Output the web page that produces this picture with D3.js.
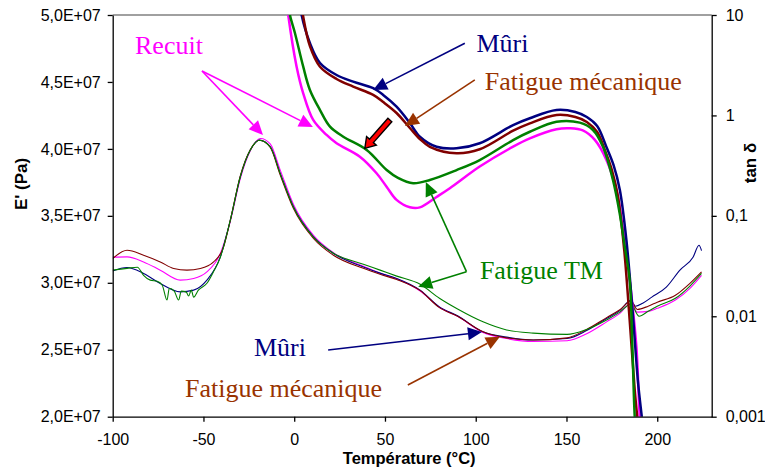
<!DOCTYPE html>
<html><head><meta charset="utf-8">
<script src="https://cdn.jsdelivr.net/npm/d3@7"></script>
<style>
html,body{margin:0;padding:0;background:#fff;}
svg{display:block;}
</style></head>
<body>
<svg id="chart" width="765" height="467"></svg>
<script>
// ---------- DATA ----------
// Temperature axis ticks
const xTicks = [-100, -50, 0, 50, 100, 150, 200];
const eTicks = [2.0e7, 2.5e7, 3.0e7, 3.5e7, 4.0e7, 4.5e7, 5.0e7];
const tanTicks = [0.001, 0.01, 0.1, 1, 10];
const tanTickLabels = ["0,001", "0,01", "0,1", "1", "10"];

// E' (Pa) curves (thick lines, left axis)
const muriE_T = [1, 4.07, 8.65, 14.21, 23.35, 32.49, 43.5, 49.01, 56.39, 63.71, 69.22, 78.41, 89.43, 102.2, 120.6, 129.8, 144.5, 154.9, 161.2, 166.9, 172.0, 175.9, 179.4, 183.0, 186.5, 189.3, 191.5, 194];
const muriE   = [5.3e7, 5.0e7, 4.791e7, 4.642e7, 4.552e7, 4.502e7, 4.453e7, 4.403e7, 4.315e7, 4.193e7, 4.091e7, 4.016e7, 4.004e7, 4.042e7, 4.178e7, 4.229e7, 4.291e7, 4.276e7, 4.238e7, 4.171e7, 4.014e7, 3.88e7, 3.693e7, 3.32e7, 2.775e7, 2.274e7, 1.998e7, 1.7e7];

const fatE_T = [2, 4.79, 8.65, 14.21, 23.35, 32.49, 43.5, 49.01, 56.39, 63.71, 69.22, 74.72, 89.43, 102.2, 120.6, 129.8, 144.5, 154.9, 161.2, 166.9, 171.1, 175.0, 178.3, 181.8, 184.8, 187.6, 189.0, 191];
const fatE   = [5.25e7, 5.0e7, 4.768e7, 4.614e7, 4.522e7, 4.465e7, 4.403e7, 4.35e7, 4.268e7, 4.156e7, 4.074e7, 4.016e7, 3.967e7, 3.997e7, 4.136e7, 4.191e7, 4.253e7, 4.238e7, 4.201e7, 4.126e7, 3.992e7, 3.842e7, 3.648e7, 3.245e7, 2.722e7, 2.199e7, 1.998e7, 1.75e7];

const tmE_T = [-4, -2.37, 0.39, 4.96, 8.65, 14.21, 19.71, 27.04, 39.92, 50.94, 57.16, 65.53, 74.72, 89.43, 102.2, 120.6, 129.8, 144.5, 157.3, 164.6, 170.1, 175.6, 179.3, 182.1, 184.8, 186.3, 187.6, 189];
const tmE   = [5.15e7, 5.0e7, 4.866e7, 4.614e7, 4.44e7, 4.29e7, 4.166e7, 4.091e7, 3.992e7, 3.842e7, 3.783e7, 3.743e7, 3.768e7, 3.842e7, 3.917e7, 4.066e7, 4.128e7, 4.203e7, 4.196e7, 4.141e7, 4.016e7, 3.768e7, 3.519e7, 3.27e7, 3.021e7, 2.523e7, 2.0e7, 1.75e7];

const recE_T = [-5, -3.3, 1.32, 4.96, 10.46, 17.84, 23.35, 36.18, 45.37, 50.88, 56.39, 63.71, 69.22, 78.41, 85.74, 102.2, 120.6, 129.8, 144.5, 151.8, 159.0, 165.6, 172.0, 177.5, 181.2, 184.8, 188.5, 190.4, 192];
const recE   = [5.2e7, 5.0e7, 4.614e7, 4.415e7, 4.216e7, 4.104e7, 4.042e7, 3.942e7, 3.818e7, 3.718e7, 3.619e7, 3.564e7, 3.563e7, 3.641e7, 3.706e7, 3.868e7, 4.017e7, 4.079e7, 4.147e7, 4.154e7, 4.138e7, 4.067e7, 3.918e7, 3.693e7, 3.394e7, 3.021e7, 2.523e7, 2.0e7, 1.8e7];

// tan delta curves (thin lines, right axis, log)
const muriTan_T = [-100, -92.1, -83, -73.8, -62.8, -55.4, -48.1, -40.7, -35.2, -29.7, -24.2, -19.1, -13.2, -7.7, -0.4, 10.6, 21.6, 38.1, 47.3, 56.5, 69.4, 80, 90, 104, 117, 131.6, 150.3, 161.1, 172.1, 179.4, 185.5, 188, 192, 197, 205, 212.5, 219.8, 223, 224.4];
const muriTan   = [0.0283, 0.0306, 0.0267, 0.0212, 0.0175, 0.0182, 0.0229, 0.039, 0.0906, 0.245, 0.452, 0.568, 0.488, 0.265, 0.123, 0.0618, 0.0422, 0.031, 0.0269, 0.0238, 0.0182, 0.0124, 0.0101, 0.007, 0.0062, 0.0058, 0.006, 0.0072, 0.0095, 0.0114, 0.0144, 0.0126, 0.0135, 0.0155, 0.0195, 0.0288, 0.039, 0.051, 0.045];

const fatTan_T = [-100, -92.1, -83, -73.8, -66.4, -59.1, -51.7, -44.4, -38.9, -35.2, -29.7, -24.2, -19.1, -13.2, -7.7, -0.4, 10.6, 21.6, 38.1, 47.3, 56.5, 69.4, 80, 90, 104, 117, 131.6, 150.3, 161.1, 172.1, 179.4, 185.5, 189, 195, 200, 210, 218, 224.4];
const fatTan   = [0.0376, 0.0455, 0.0406, 0.0348, 0.0299, 0.0288, 0.0299, 0.0348, 0.0491, 0.0906, 0.25, 0.455, 0.566, 0.48, 0.255, 0.118, 0.0595, 0.0405, 0.03, 0.0262, 0.0232, 0.018, 0.0122, 0.01, 0.007, 0.0061, 0.0058, 0.0061, 0.0074, 0.0097, 0.0116, 0.0141, 0.0117, 0.0126, 0.0138, 0.0162, 0.0213, 0.0277];

const recTan_T = [-100, -92.1, -83, -73.8, -62.8, -55.4, -48.1, -40.7, -35.2, -29.7, -24.2, -18.5, -13.2, -7.7, -0.4, 10.6, 21.6, 38.1, 47.3, 56.5, 69.4, 80, 90, 104, 117, 131.6, 150.3, 161.1, 172.1, 179.4, 185.5, 189, 195, 200, 210, 218, 224.4];
const recTan   = [0.0388, 0.039, 0.0348, 0.0288, 0.0229, 0.0238, 0.0277, 0.0422, 0.088, 0.235, 0.445, 0.59, 0.52, 0.285, 0.13, 0.064, 0.043, 0.0315, 0.0268, 0.0236, 0.0178, 0.0123, 0.01, 0.0069, 0.006, 0.0056, 0.0057, 0.0067, 0.0088, 0.0107, 0.0135, 0.011, 0.0112, 0.012, 0.0145, 0.019, 0.0256];

const tmTan_T = [-100, -92.1, -86.4, -83, -79.3, -75.5, -72.7, -70.1, -68.8, -66.1, -63.7, -62.2, -59.4, -58.2, -56.7, -55.4, -52.8, -48.1, -44.6, -40.7, -35.2, -29.7, -24.2, -19.1, -13.2, -7.7, -0.4, 10.6, 21.6, 38.1, 47.3, 56.5, 69.4, 80, 90, 104, 117, 131.6, 150.3, 161.1, 172.1, 179.4, 185.5, 190, 195, 200, 210, 218, 224.4];
const tmTan   = [0.0288, 0.03, 0.0308, 0.0256, 0.0229, 0.0223, 0.0204, 0.0145, 0.019, 0.0178, 0.0145, 0.0178, 0.0174, 0.0159, 0.0182, 0.0155, 0.0182, 0.0213, 0.0275, 0.0387, 0.0906, 0.245, 0.452, 0.566, 0.485, 0.262, 0.122, 0.0615, 0.0425, 0.033, 0.0288, 0.0251, 0.0208, 0.0151, 0.0118, 0.0088, 0.0073, 0.0068, 0.0066, 0.0074, 0.0092, 0.011, 0.0132, 0.01, 0.0112, 0.0126, 0.0151, 0.02, 0.0267];

// ---------- CHART ----------
const svg = d3.select("#chart");
const L = 112.7, R = 711.7, T = 15, B = 416.7;
const x = d3.scaleLinear().domain([-100, 230]).range([L, R]);
const yL = d3.scaleLinear().domain([2e7, 5e7]).range([B, T]);
const yR = d3.scaleLog().domain([0.001, 10]).range([B, T]);

svg.append("rect").attr("width", 765).attr("height", 467).attr("fill", "#fff");

svg.append("defs").append("clipPath").attr("id", "clip")
  .append("rect").attr("x", L).attr("y", T).attr("width", R - L).attr("height", B - T);

// top border
svg.append("line").attr("x1", L).attr("x2", R).attr("y1", T).attr("y2", T)
  .attr("stroke", "#808080").attr("stroke-width", 1.3);

const zip = (a, b) => a.map((v, i) => [v, b[i]]);
const plot = svg.append("g").attr("clip-path", "url(#clip)");

const lineTan = d3.line().x(d => x(d[0])).y(d => yR(d[1])).curve(d3.curveMonotoneX);
const lineE = d3.line().x(d => x(d[0])).y(d => yL(d[1])).curve(d3.curveCatmullRom.alpha(0.5));

const thin = [
  [recTan_T, recTan, "#FF00FF"],
  [muriTan_T, muriTan, "#000080"],
  [fatTan_T, fatTan, "#800000"],
  [tmTan_T, tmTan, "#008000"]
];
thin.forEach(([t, v, c]) => {
  plot.append("path").datum(zip(t, v)).attr("d", lineTan)
    .attr("fill", "none").attr("stroke", c).attr("stroke-width", 1.1);
});
const thick = [
  [recE_T, recE, "#FF00FF"],
  [muriE_T, muriE, "#000080"],
  [fatE_T, fatE, "#800000"],
  [tmE_T, tmE, "#008000"]
];
thick.forEach(([t, v, c]) => {
  plot.append("path").datum(zip(t, v)).attr("d", lineE)
    .attr("fill", "none").attr("stroke", c).attr("stroke-width", 2.5);
});

// axes
const fmtE = v => (v / 1e7).toFixed(1).replace(".", ",") + "E+07";
const axFont = "'Liberation Sans', Arial, sans-serif";

const gx = svg.append("g").attr("transform", `translate(0,${B})`)
  .call(d3.axisBottom(x).tickValues(xTicks).tickFormat(d => String(d)).tickSize(5).tickSizeOuter(0).tickPadding(12));
const gl = svg.append("g").attr("transform", `translate(${L},0)`)
  .call(d3.axisLeft(yL).tickValues(eTicks).tickFormat(fmtE).tickSize(5).tickSizeOuter(0).tickPadding(7));
const gr = svg.append("g").attr("transform", `translate(${R},0)`)
  .call(d3.axisRight(yR).tickValues(tanTicks).tickFormat((d, i) => tanTickLabels[i]).tickSize(5).tickSizeOuter(0).tickPadding(9));
[gx, gl, gr].forEach(g => {
  g.selectAll("text").attr("font-family", axFont).attr("font-size", 16).attr("fill", "#000");
  g.selectAll("path,line").attr("stroke", "#000").attr("stroke-width", 1.3);
});

// axis titles
svg.append("text").attr("x", (L + R) / 2 - 3).attr("y", 464)
  .attr("text-anchor", "middle").attr("font-family", axFont).attr("font-weight", "bold")
  .attr("font-size", 16.5).text("Température (°C)");
svg.append("text").attr("transform", "translate(27,184) rotate(-90)")
  .attr("text-anchor", "middle").attr("font-family", axFont).attr("font-weight", "bold")
  .attr("font-size", 17).text("E' (Pa)");
svg.append("text").attr("transform", "translate(756,163) rotate(-90)")
  .attr("text-anchor", "middle").attr("font-family", axFont).attr("font-weight", "bold")
  .attr("font-size", 17).text("tan δ");

// ---------- ANNOTATIONS (positions in data units: [T, E']) ----------
const serif = "'Liberation Serif', 'Times New Roman', serif";
const labels = [
  ["Recuit", -87.7, 4.709e7, "#FF00FF"],
  ["Mûri", 100.4, 4.726e7, "#000080"],
  ["Fatigue mécanique", 105.0, 4.44e7, "#993300"],
  ["Fatigue TM", 102.3, 3.026e7, "#008000"],
  ["Mûri", -22.2, 2.453e7, "#000080"],
  ["Fatigue mécanique", -60.2, 2.149e7, "#993300"]
];
labels.forEach(([s, t, e, c]) => {
  svg.append("text").attr("x", x(t)).attr("y", yL(e)).attr("font-family", serif)
    .attr("font-size", 26).attr("fill", c).text(s);
});

// arrows: [fromT, fromE, toT, toE, color]
const arrows = [
  [-50.8, 4.582e7, -17.2, 4.104e7, "#FF00FF"],
  [-50.8, 4.582e7, 10.3, 4.164e7, "#FF00FF"],
  [94.0, 4.789e7, 43.5, 4.44e7, "#000080"],
  [99.5, 4.515e7, 61.0, 4.171e7, "#993300"],
  [94.9, 3.083e7, 72.5, 3.752e7, "#008000"],
  [94.9, 3.083e7, 68.3, 2.971e7, "#008000"],
  [18.7, 2.498e7, 103.4, 2.632e7, "#000080"],
  [62.6, 2.237e7, 113.3, 2.597e7, "#993300"]
];
const ann = svg.append("g");
arrows.forEach(([t1, e1, t2, e2, c]) => {
  const x1 = x(t1), y1 = yL(e1), x2 = x(t2), y2 = yL(e2);
  const a = Math.atan2(y2 - y1, x2 - x1);
  const len = 14, hw = 6.5;
  const bx = x2 - len * Math.cos(a), by = y2 - len * Math.sin(a);
  ann.append("line").attr("x1", x1).attr("y1", y1).attr("x2", bx).attr("y2", by)
    .attr("stroke", c).attr("stroke-width", 1.6);
  const px = -Math.sin(a) * hw, py = Math.cos(a) * hw;
  ann.append("path").attr("d", `M${x2},${y2}L${bx + px},${by + py}L${bx - px},${by - py}Z`)
    .attr("fill", c);
});

// red block arrow
(function () {
  const t1 = 52.7, e1 = 4.216e7, t2 = 38.9, e2 = 4.004e7;
  const x1 = x(t1), y1 = yL(e1), x2 = x(t2), y2 = yL(e2);
  const a = Math.atan2(y2 - y1, x2 - x1);
  const total = Math.hypot(x2 - x1, y2 - y1);
  const head = 10, sw = 2.6, hw = 6.5;
  const pts = [[0, -sw], [total - head, -sw], [total - head, -hw], [total, 0], [total - head, hw], [total - head, sw], [0, sw]];
  const c = Math.cos(a), s = Math.sin(a);
  const d = "M" + pts.map(([u, v]) => [x1 + u * c - v * s, y1 + u * s + v * c].join(",")).join("L") + "Z";
  ann.append("path").attr("d", d).attr("fill", "#FF0000").attr("stroke", "#000").attr("stroke-width", 1.4);
})();
</script>
</body></html>
